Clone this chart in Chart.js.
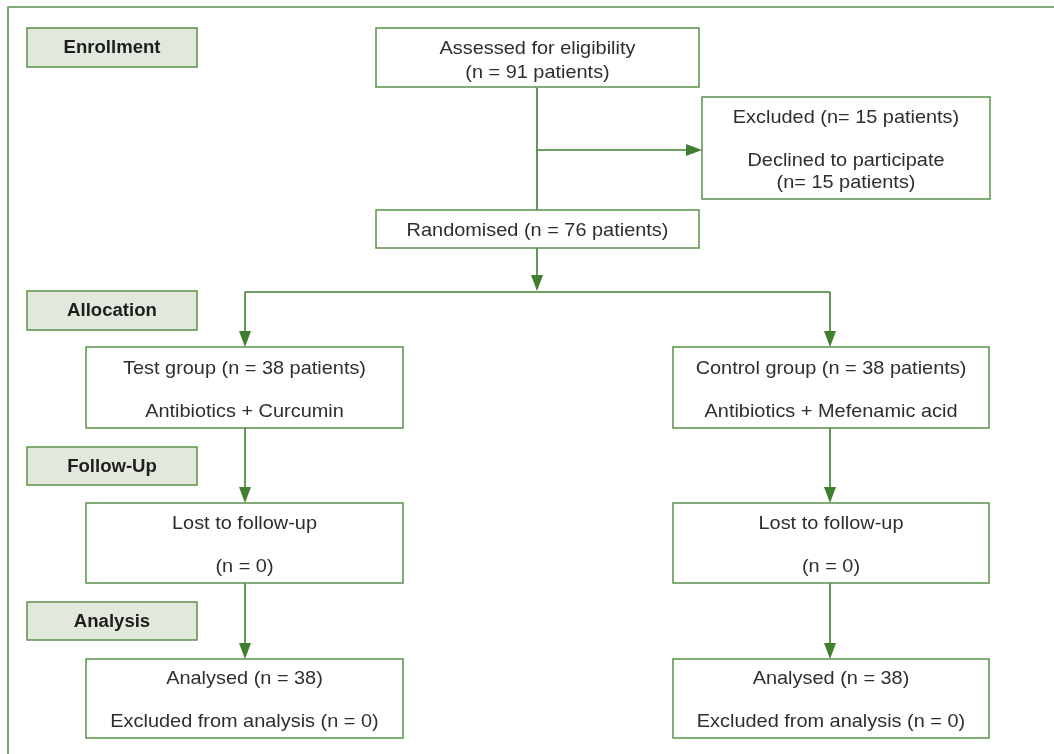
<!DOCTYPE html>
<html>
<head>
<meta charset="utf-8">
<script src="https://cdn.jsdelivr.net/npm/chart.js@4"></script>
<style>
  html, body { margin: 0; padding: 0; background: #ffffff; }
  #wrap { width: 1054px; height: 754px; }
</style>
</head>
<body>
<div id="wrap"><canvas id="c" width="1054" height="754"></canvas></div>
<script>
// ---- content (text of the flow diagram) ----
const stages = ["Enrollment", "Allocation", "Follow-Up", "Analysis"];
const assessedText = ["Assessed for eligibility", "(n = 91 patients)"];
const excludedText = ["Excluded (n= 15 patients)", "", "Declined to participate", "(n= 15 patients)"];
const randomisedText = ["Randomised (n = 76 patients)"];
const testGroupText = ["Test group (n = 38 patients)", "", "Antibiotics + Curcumin"];
const controlGroupText = ["Control group (n = 38 patients)", "", "Antibiotics + Mefenamic acid"];
const lostText = ["Lost to follow-up", "", "(n = 0)"];
const analysedText = ["Analysed (n = 38)", "", "Excluded from analysis (n = 0)"];

// ---- layout (diagram coordinates on the hidden linear scales) ----
const stageBoxes = [
  { x0: 27, x1: 197, y0: 28, y1: 67 },
  { x0: 27, x1: 197, y0: 291, y1: 330 },
  { x0: 27, x1: 197, y0: 447, y1: 485 },
  { x0: 27, x1: 197, y0: 602, y1: 640 }
];
const boxes = [
  { lines: assessedText,   x0: 376, x1: 699, y0: 28,  y1: 87,  ty: [48, 72] },
  { lines: excludedText,   x0: 702, x1: 990, y0: 97,  y1: 199, ty: [117, 138, 160, 182] },
  { lines: randomisedText, x0: 376, x1: 699, y0: 210, y1: 248, ty: [230] },
  { lines: testGroupText,  x0: 86,  x1: 403, y0: 347, y1: 428, ty: [368, 390, 411] },
  { lines: controlGroupText, x0: 673, x1: 989, y0: 347, y1: 428, ty: [368, 390, 411] },
  { lines: lostText,       x0: 86,  x1: 403, y0: 503, y1: 583, ty: [523, 545, 566] },
  { lines: lostText,       x0: 673, x1: 989, y0: 503, y1: 583, ty: [523, 545, 566] },
  { lines: analysedText,   x0: 86,  x1: 403, y0: 659, y1: 738, ty: [678, 700, 721] },
  { lines: analysedText,   x0: 673, x1: 989, y0: 659, y1: 738, ty: [678, 700, 721] }
];
const connectors = [
  [[537, 88], [537, 210]],
  [[537, 150], [690, 150]],
  [[537, 248], [537, 280]],
  [[245, 292], [830, 292]],
  [[245, 292], [245, 335]],
  [[830, 292], [830, 335]],
  [[245, 428], [245, 491]],
  [[830, 428], [830, 491]],
  [[245, 583], [245, 647]],
  [[830, 583], [830, 647]]
];
const arrowHeads = [
  { x: 702, y: 150, dir: "right" },
  { x: 537, y: 291, dir: "down" },
  { x: 245, y: 347, dir: "down" },
  { x: 830, y: 347, dir: "down" },
  { x: 245, y: 503, dir: "down" },
  { x: 830, y: 503, dir: "down" },
  { x: 245, y: 659, dir: "down" },
  { x: 830, y: 659, dir: "down" }
];
const frame = [[8, 754], [8, 7], [1054, 7]];

const GREEN = "#3f7f2f";
const BOX_GREEN = "#5a9148";
const FRAME_GREEN = "#5f9150";
const LABEL_FILL = "#e2e9dc";
const TEXT = "#2e2e2e";
const FAMILY = "'Liberation Sans', Arial, sans-serif";
const REG_SIZE = 18.5;
const BOLD_SIZE = 18;

const datasets = connectors.map(seg => ({
  data: seg.map(p => ({ x: p[0], y: p[1] })),
  showLine: true,
  borderColor: GREEN,
  borderWidth: 1.6,
  pointRadius: 0,
  fill: false
}));
datasets.push({
  data: frame.map(p => ({ x: p[0], y: p[1] })),
  showLine: true,
  borderColor: FRAME_GREEN,
  borderWidth: 1.6,
  pointRadius: 0,
  fill: false
});

function stretchFor(ctx, font, sample, targetWidth) {
  ctx.font = font;
  return targetWidth / ctx.measureText(sample).width;
}
function drawText(ctx, text, x, y, font, sx) {
  ctx.save();
  ctx.translate(x, y);
  ctx.scale(sx, 1);
  ctx.font = font;
  ctx.textAlign = "center";
  ctx.textBaseline = "middle";
  ctx.fillText(text, 0, 0);
  ctx.restore();
}

const diagramPlugin = {
  id: "diagram",
  afterDatasetsDraw(chart) {
    const ctx = chart.ctx;
    const xs = chart.scales.x, ys = chart.scales.y;
    const px = v => xs.getPixelForValue(v);
    const py = v => ys.getPixelForValue(v);
    ctx.save();
    const regFont = REG_SIZE + "px " + FAMILY;
    const boldFont = "bold " + BOLD_SIZE + "px " + FAMILY;
    const regSx = stretchFor(ctx, regFont, "Test group (n = 38 patients)", 243);
    const boldSx = stretchFor(ctx, boldFont, "Enrollment", 97);
    // stage label boxes
    stageBoxes.forEach((b, i) => {
      const x0 = px(b.x0), x1 = px(b.x1), y0 = py(b.y0), y1 = py(b.y1);
      ctx.fillStyle = LABEL_FILL;
      ctx.fillRect(x0, y0, x1 - x0, y1 - y0);
      ctx.strokeStyle = BOX_GREEN;
      ctx.lineWidth = 1.5;
      ctx.strokeRect(x0, y0, x1 - x0, y1 - y0);
      ctx.fillStyle = "#1e1e1e";
      drawText(ctx, stages[i], (x0 + x1) / 2, (y0 + y1) / 2 + 1, boldFont, boldSx);
    });
    // content boxes
    boxes.forEach(b => {
      const x0 = px(b.x0), x1 = px(b.x1), y0 = py(b.y0), y1 = py(b.y1);
      ctx.fillStyle = "#ffffff";
      ctx.fillRect(x0, y0, x1 - x0, y1 - y0);
      ctx.strokeStyle = BOX_GREEN;
      ctx.lineWidth = 1.5;
      ctx.strokeRect(x0, y0, x1 - x0, y1 - y0);
      ctx.fillStyle = TEXT;
      b.lines.forEach((t, k) => {
        if (t) drawText(ctx, t, (x0 + x1) / 2, py(b.ty[k]) + 1, regFont, regSx);
      });
    });
    // arrow heads
    ctx.fillStyle = GREEN;
    arrowHeads.forEach(a => {
      const x = px(a.x), y = py(a.y);
      ctx.beginPath();
      if (a.dir === "down") {
        ctx.moveTo(x, y);
        ctx.lineTo(x - 6, y - 16);
        ctx.lineTo(x + 6, y - 16);
      } else {
        ctx.moveTo(x, y);
        ctx.lineTo(x - 16, y - 6);
        ctx.lineTo(x - 16, y + 6);
      }
      ctx.closePath();
      ctx.fill();
    });
    ctx.restore();
  }
};

new Chart(document.getElementById("c"), {
  type: "scatter",
  data: { datasets },
  options: {
    responsive: false,
    animation: false,
    events: [],
    layout: { padding: 0 },
    plugins: { legend: { display: false }, tooltip: { enabled: false } },
    scales: {
      x: { type: "linear", min: 0, max: 1054, display: false },
      y: { type: "linear", min: 0, max: 754, reverse: true, display: false }
    }
  },
  plugins: [diagramPlugin]
});
</script>
</body>
</html>
